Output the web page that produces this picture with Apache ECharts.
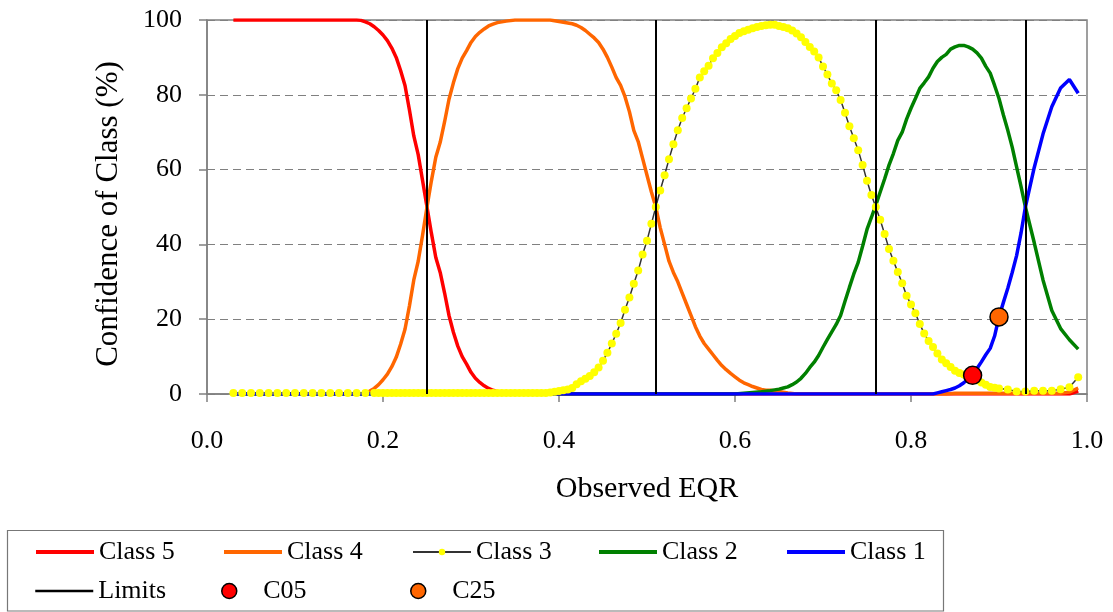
<!DOCTYPE html>
<html>
<head>
<meta charset="utf-8">
<script src="https://cdn.jsdelivr.net/npm/echarts@6/dist/echarts.min.js"></script>
<style>
  html, body { margin: 0; padding: 0; background: #fff; }
  #chart { width: 1113px; height: 612px; }
</style>
</head>
<body>
<div id="chart"></div>
<script>
// Confidence of class membership versus observed EQR, pairs of [EQR, confidence %]
const class5 = [[0.03,100],[0.17,100],[0.175,99.9],[0.18,99.5],[0.185,99.0],[0.19,98.2],[0.195,97.2],[0.2,96.0],
  [0.205,94.5],[0.21,92.5],[0.215,90.0],[0.22,86.5],[0.225,82.5],[0.23,76.0],[0.235,69.0],[0.24,64.0],[0.245,57.0],
  [0.25,50.0],[0.255,43.0],[0.26,36.5],[0.265,32.5],[0.27,27.0],[0.275,21.0],[0.28,16.5],[0.285,12.8],[0.29,10.0],
  [0.295,8.0],[0.3,5.8],[0.305,4.2],[0.31,3.1],[0.315,2.2],[0.32,1.5],[0.325,1.0],[0.33,0.6],[0.335,0.4],[0.34,0.2],
  [0.35,0],[0.98,0],[0.99,0.8]];

const class4 = [[0.03,0],[0.175,0],[0.18,0.3],[0.185,0.8],[0.19,1.5],[0.195,2.5],[0.2,3.8],[0.205,5.3],[0.21,7.3],
  [0.215,9.8],[0.22,13.3],[0.225,17.3],[0.23,23.5],[0.235,30.5],[0.24,35.5],[0.245,42.5],[0.25,50],[0.255,57],
  [0.26,63.3],[0.265,67.3],[0.27,72.8],[0.275,78.8],[0.28,83.2],[0.285,87],[0.29,89.8],[0.295,91.8],[0.3,94],
  [0.305,95.6],[0.31,96.7],[0.315,97.6],[0.32,98.4],[0.325,98.9],[0.33,99.3],[0.335,99.5],[0.34,99.7],[0.35,100],
  [0.39,100],[0.395,99.8],[0.4,99.6],[0.405,99.4],[0.41,99.2],[0.415,99],[0.42,98.6],[0.425,98],[0.43,97.2],
  [0.435,96.2],[0.44,95.2],[0.445,94],[0.45,92.2],[0.455,90],[0.46,87.4],[0.465,84.6],[0.47,82.5],[0.475,79.5],
  [0.48,75.5],[0.485,70.5],[0.49,67.5],[0.495,63],[0.5,58.5],[0.505,54],[0.51,50],[0.515,44.5],[0.52,40],
  [0.525,35.5],[0.53,32.5],[0.535,30],[0.54,27],[0.545,24],[0.55,21],[0.555,18],[0.56,15.5],[0.565,13.5],[0.57,12],
  [0.575,10.5],[0.58,9],[0.585,7.6],[0.59,6.5],[0.595,5.5],[0.6,4.6],[0.605,3.7],[0.61,3],[0.615,2.5],[0.62,2],
  [0.625,1.6],[0.63,1.2],[0.635,1.0],[0.64,1.0],[0.645,0.9],[0.65,0.7],[0.655,0.5],[0.66,0.3],[0.67,0],[0.84,0],
  [0.85,0.2],[0.97,0.2],[0.98,0.5],[0.99,1.6]];

const class3 = [[0.03,0.3],[0.04,0.3],[0.05,0.3],[0.06,0.3],[0.07,0.3],[0.08,0.3],[0.09,0.3],[0.1,0.3],[0.11,0.3],
  [0.12,0.3],[0.13,0.3],[0.14,0.3],[0.15,0.3],[0.16,0.3],[0.17,0.3],[0.18,0.3],[0.19,0.3],
  [0.195,0.3],[0.2,0.3],[0.205,0.3],[0.21,0.3],[0.215,0.3],[0.22,0.3],[0.225,0.3],[0.23,0.3],[0.235,0.3],[0.24,0.3],
  [0.245,0.3],[0.25,0.3],[0.255,0.3],[0.26,0.3],[0.265,0.3],[0.27,0.3],[0.275,0.3],[0.28,0.3],[0.285,0.3],[0.29,0.3],
  [0.295,0.3],[0.3,0.3],[0.305,0.3],[0.31,0.3],[0.315,0.3],[0.32,0.3],[0.325,0.3],[0.33,0.3],[0.335,0.3],[0.34,0.3],
  [0.345,0.3],[0.35,0.3],[0.355,0.3],[0.36,0.3],[0.365,0.3],[0.37,0.3],[0.375,0.3],[0.38,0.3],[0.385,0.3],
  [0.39,0.4],[0.395,0.6],[0.4,0.8],[0.405,1.0],[0.41,1.2],[0.415,1.6],[0.42,2.6],[0.425,3.4],[0.43,4.1],[0.435,4.8],
  [0.44,5.8],[0.445,7.1],[0.45,8.9],[0.455,11.0],[0.46,13.5],[0.465,16.1],[0.47,19.0],[0.475,22.5],[0.48,25.8],
  [0.485,29.5],[0.49,33.0],[0.495,37.3],[0.5,41.0],[0.505,45.5],[0.51,50.0],[0.515,54.4],[0.52,58.5],[0.525,62.8],
  [0.53,66.8],[0.535,70.5],[0.54,73.8],[0.545,76.4],[0.55,79.0],[0.555,81.6],[0.56,84.6],[0.565,86.3],[0.57,87.8],
  [0.575,89.8],[0.58,91.2],[0.585,92.7],[0.59,93.8],[0.595,94.9],[0.6,95.7],[0.605,96.5],[0.61,97.0],[0.615,97.4],
  [0.62,97.8],[0.625,98.1],[0.63,98.4],[0.635,98.6],[0.64,98.7],[0.645,98.7],[0.65,98.4],[0.655,98.1],[0.66,97.8],
  [0.665,97.2],[0.67,96.4],[0.675,95.4],[0.68,94.1],[0.685,92.8],[0.69,91.6],[0.695,90.0],[0.7,87.6],[0.705,85.4],
  [0.71,83.0],[0.715,81.2],[0.72,78.6],[0.725,75.2],[0.73,71.6],[0.735,68.4],[0.74,65.2],[0.745,61.2],[0.75,57.0],
  [0.755,53.2],[0.76,50.0],[0.765,46.6],[0.77,42.8],[0.775,38.8],[0.78,35.6],[0.785,32.6],[0.79,29.6],[0.795,26.3],
  [0.8,23.9],[0.805,21.6],[0.81,18.7],[0.815,16.2],[0.82,14.2],[0.825,12.6],[0.83,10.8],[0.835,9.2],[0.84,8.2],
  [0.845,7.2],[0.85,6.2],[0.855,5.6],[0.86,5.2],[0.865,4.8],[0.87,4.3],[0.875,3.7],[0.88,3.1],[0.885,2.5],[0.89,1.9],
  [0.895,1.7],[0.9,1.5],[0.91,1.2],[0.92,0.7],[0.93,0.7],[0.94,0.9],[0.95,0.9],[0.96,0.9],[0.97,1.3],[0.98,1.8],
  [0.99,4.5]];

const class2 = [[0.03,0],[0.6,0],[0.61,0.2],[0.62,0.4],[0.63,0.6],[0.64,0.9],[0.645,1.1],[0.65,1.3],[0.655,1.6],
  [0.66,1.9],[0.665,2.5],[0.67,3.2],[0.675,4.2],[0.68,5.5],[0.685,7.1],[0.69,8.5],[0.695,10.3],[0.7,12.5],[0.705,14.6],
  [0.71,16.6],[0.715,18.6],[0.72,21],[0.725,24.8],[0.73,28.5],[0.735,32.1],[0.74,35.2],[0.745,39.5],[0.75,44],
  [0.755,47.2],[0.76,50.5],[0.765,54],[0.77,57.5],[0.775,61.2],[0.78,64.3],[0.785,67.8],[0.79,70],[0.795,73.5],
  [0.8,76.4],[0.805,79],[0.81,81.7],[0.815,83.2],[0.82,84.8],[0.825,87.1],[0.83,88.9],[0.835,90],[0.84,90.8],
  [0.845,92.2],[0.85,92.8],[0.855,93.2],[0.86,93.2],[0.865,92.8],[0.87,92.2],[0.875,91.2],[0.88,89.8],[0.885,87.6],
  [0.89,85.8],[0.895,82.5],[0.9,79],[0.905,74.6],[0.91,70.5],[0.915,66],[0.92,60.7],[0.925,55.5],[0.93,50],
  [0.94,40.5],[0.95,30.5],[0.96,22.3],[0.97,17.5],[0.98,14.5],[0.99,12]];

const class1 = [[0.03,0],[0.825,0],[0.83,0.3],[0.835,0.6],[0.84,0.9],[0.845,1.2],[0.85,1.6],[0.855,2.2],[0.86,3],
  [0.865,4],[0.87,5],[0.875,6.8],[0.88,8.6],[0.885,10.5],[0.89,12.2],[0.895,15.5],[0.9,20.6],[0.905,24.5],[0.91,28.3],
  [0.915,32.5],[0.92,37],[0.925,43],[0.93,50],[0.94,60.5],[0.95,69.5],[0.96,76.8],[0.97,81.8],[0.98,84.1],[0.99,80.4]];

// Class boundaries on the EQR scale
const limits = [0.25, 0.51, 0.76, 0.93];

// Individual observations
const c05 = [[0.87, 5]];
const c25 = [[0.90, 20.6]];

const FONT = "'Liberation Serif', 'Times New Roman', serif";

function legendAt(name, left, top, extra) {
  return Object.assign({
    data: [name],
    left: left,
    top: top,
    padding: 0,
    itemWidth: 58,
    itemHeight: 14,
    itemGap: 0,
    selectedMode: false,
    textStyle: { fontFamily: FONT, fontSize: 26, color: '#000', lineHeight: 30 }
  }, extra || {});
}

// plain line swatch: hide the marker that line legends carry by default
const lineOnly = { itemStyle: { opacity: 0 }, lineStyle: { width: 4 } };

const chart = echarts.init(document.getElementById('chart'), null, { renderer: 'canvas' });

chart.setOption({
  backgroundColor: '#fff',
  animation: false,
  grid: {
    left: 207, right: 26, top: 20, bottom: 218,
    show: true, borderColor: '#808080', borderWidth: 1.5, backgroundColor: 'transparent'
  },
  xAxis: {
    type: 'value', min: 0, max: 1, interval: 0.2,
    name: 'Observed EQR', nameLocation: 'middle', nameGap: 80,
    nameTextStyle: { fontFamily: FONT, fontSize: 30, color: '#000' },
    axisLine: { show: true, lineStyle: { color: '#808080', width: 1.5 } },
    axisTick: { show: true, length: 8, lineStyle: { color: '#808080', width: 1.5 } },
    axisLabel: { margin: 34, fontFamily: FONT, fontSize: 26, color: '#000', formatter: v => v.toFixed(1) },
    splitLine: { show: false }
  },
  yAxis: {
    type: 'value', min: 0, max: 100, interval: 20,
    name: 'Confidence of Class (%)', nameLocation: 'middle', nameGap: 83, nameRotate: 90,
    nameTextStyle: { fontFamily: FONT, fontSize: 31, color: '#000', padding: [0, 14, 0, 0] },
    axisLine: { show: true, lineStyle: { color: '#808080', width: 1.5 } },
    axisTick: { show: true, length: 8, lineStyle: { color: '#808080', width: 1.5 } },
    axisLabel: { margin: 25, fontFamily: FONT, fontSize: 26, color: '#000' },
    splitLine: { show: true, lineStyle: { color: '#808080', width: 1, type: [8, 5] } }
  },
  legend: [
    legendAt('Class 5', 34, 537, lineOnly),
    legendAt('Class 4', 222, 537, lineOnly),
    legendAt('Class 3', 412, 537, { itemHeight: 8, lineStyle: { color: '#333', width: 2, opacity: 1 } }),
    legendAt('Class 2', 597, 537, lineOnly),
    legendAt('Class 1', 785, 537, lineOnly),
    legendAt('Limits', 34, 576, { itemStyle: { opacity: 0 }, lineStyle: { width: 2.5 } }),
    legendAt('C05', 221, 576, { itemHeight: 15, itemStyle: { borderColor: '#000', borderWidth: 1.5 } }),
    legendAt('C25', 410, 576, { itemHeight: 15, itemStyle: { borderColor: '#000', borderWidth: 1.5 } })
  ],
  graphic: [{
    type: 'rect', silent: true, z: -1,
    shape: { x: 7.5, y: 530.5, width: 936, height: 80.5 },
    style: { fill: 'transparent', stroke: '#777', lineWidth: 1.2 }
  }],
  series: [
    // Class 3 markers sit above every line; its connecting line is drawn with the other lines below
    { name: 'Class 3', type: 'line', data: class3, color: '#FFFF00', symbol: 'circle', symbolSize: 8,
      showSymbol: true, z: 4,
      itemStyle: { color: '#FFFF00', borderWidth: 0 },
      lineStyle: { color: '#333', width: 1.5, opacity: 0 } },
    {
      name: 'Limits', type: 'line', data: [], color: '#000', symbol: 'none',
      lineStyle: { color: '#000', width: 2 },
      markLine: {
        silent: true, symbol: ['none', 'none'], label: { show: false },
        lineStyle: { color: '#000', width: 2, type: 'solid' },
        emphasis: { disabled: true },
        data: limits.map(v => ({ xAxis: v }))
      }
    },
    { name: 'Class 5', type: 'line', data: class5, color: '#FF0000', symbol: 'none',
      lineStyle: { color: '#FF0000', width: 3.5 } },
    { name: 'Class 4', type: 'line', data: class4, color: '#FF6600', symbol: 'none',
      lineStyle: { color: '#FF6600', width: 3.5 } },
    { name: 'Class 3', type: 'line', data: class3, color: '#333', symbol: 'none',
      lineStyle: { color: '#333', width: 1.5 } },
    { name: 'Class 2', type: 'line', data: class2, color: '#008000', symbol: 'none',
      lineStyle: { color: '#008000', width: 3.5 } },
    { name: 'Class 1', type: 'line', data: class1, color: '#0000FF', symbol: 'none',
      lineStyle: { color: '#0000FF', width: 3.5 } },
    { name: 'C05', type: 'scatter', data: c05, symbol: 'circle', symbolSize: 18, z: 10,
      itemStyle: { color: '#FF0000', borderColor: '#000', borderWidth: 1.5, opacity: 1 } },
    { name: 'C25', type: 'scatter', data: c25, symbol: 'circle', symbolSize: 18, z: 10,
      itemStyle: { color: '#FF6600', borderColor: '#000', borderWidth: 1.5, opacity: 1 } }
  ]
});
</script>
</body>
</html>
